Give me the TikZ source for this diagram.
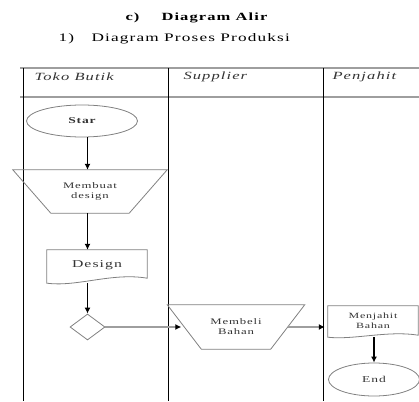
\documentclass[tikz,border=0pt]{standalone}
\usepackage{fontspec}
\setmainfont{Liberation Serif}[FakeStretch=1.5, LetterSpace=10]
\usepackage{tikz}
\usetikzlibrary{shapes.geometric, arrows.meta}

\definecolor{shapegray}{gray}{0.5}
\definecolor{rulegray}{gray}{0.62}
\definecolor{textgray}{gray}{0.2}

\tikzset{
  flow/.style={-{Latex[length=6pt,width=6pt]}, line width=1.2pt},
  outline/.style={shapegray, line width=0.8pt},
  terminal/.style={ellipse, draw=shapegray, line width=0.8pt, inner sep=0pt, text=textgray},
  manualbox/.style={inner sep=0pt, align=center, text=textgray, font=\fontsize{8.5}{10}\selectfont},
  docbox/.style={inner sep=0pt, align=center, text=textgray},
  decision/.style={diamond, draw=shapegray, line width=0.8pt, inner sep=0pt,
    minimum width=35pt, minimum height=26pt},
  lanehead/.style={anchor=west, text=textgray, font=\fontsize{11}{12}\selectfont\itshape},
}

\begin{document}
\begin{tikzpicture}[x=1pt, y=-1pt]
    \useasboundingbox (0,0) rectangle (419,401);

    % Headings
    \node[anchor=west, font=\fontsize{11}{13}\selectfont\bfseries] (hurufc) at (122,18) {c)};
    \node[anchor=west, font=\fontsize{11}{13}\selectfont\bfseries] (judul) at (158,18) {Diagram Alir};
    \node[anchor=west, font=\fontsize{11.5}{13}\selectfont] (nomor) at (55,39) {1)};
    \node[anchor=west, font=\fontsize{11.5}{13}\selectfont] (subjudul) at (88,39) {Diagram Proses Produksi};

    % Swimlanes
    \draw[rulegray, line width=1.3pt] (20,68) -- (419,68);
    \draw[rulegray, line width=1.3pt] (20,97) -- (419,97);
    \draw[line width=0.9pt] (23,68) -- (23,401);
    \draw[line width=0.9pt] (168,68) -- (168,401);
    \draw[line width=0.9pt] (323,68) -- (323,401);
    \node[lanehead] (tokohead) at (31,77) {Toko Butik};
    \node[lanehead] (supphead) at (180,77) {Supplier};
    \node[lanehead] (penjhead) at (329,77) {Penjahit};

    % Toko Butik
    \node[terminal, minimum width=111pt, minimum height=32pt,
      font=\fontsize{9}{10}\selectfont\bfseries] (star) at (82,121) {Star};
    \node[manualbox, minimum width=116pt, minimum height=43pt] (membuat) at (90,191.5) {Membuat\\design};
    \draw[outline] ([xshift=-19pt]membuat.north west) -- ([xshift=19pt]membuat.north east)
      -- ([xshift=-19pt]membuat.south east) -- ([xshift=19pt]membuat.south west) -- cycle;
    \node[docbox, minimum width=100pt, minimum height=30pt,
      font=\fontsize{10.5}{12}\selectfont] (design) at (97,265) {Design};
    \draw[outline] (design.north west) -- (design.north east)
      -- ([yshift=2pt]design.south east) .. controls +(-35,-6) and +(30,4) .. ([yshift=-3pt]design.south west) -- cycle;
    \node[decision] (cek) at (87.5,327) {};

    % Supplier
    \node[manualbox, minimum width=103pt, minimum height=44pt] (membeli) at (236,327) {Membeli\\Bahan};
    \draw[outline] ([xshift=-17pt]membeli.north west) -- ([xshift=17pt]membeli.north east)
      -- ([xshift=-17pt]membeli.south east) -- ([xshift=17pt]membeli.south west) -- cycle;

    % Penjahit
    \node[docbox, minimum width=90pt, minimum height=30pt,
      font=\fontsize{8}{10}\selectfont] (menjahit) at (373,321) {Menjahit\\Bahan};
    \draw[outline] (menjahit.north west) -- (menjahit.north east)
      -- ([yshift=1pt]menjahit.south east) .. controls +(-30,-5) and +(25,3) .. ([yshift=-1pt]menjahit.south west) -- cycle;
    \node[terminal, minimum width=91pt, minimum height=33pt,
      font=\fontsize{9}{10}\selectfont] (end) at (374,379.5) {End};

    % Arrows
    \coordinate (designfoot) at ([yshift=-3pt]design.south);
    \coordinate (menjahitfoot) at ([yshift=-1pt]menjahit.south);
    \draw[flow] (star.south -| cek) -- (membuat.north -| cek);
    \draw[flow] (membuat.south -| cek) -- (design.north -| cek);
    \draw[flow] (designfoot -| cek) -- (cek);
    \draw[rulegray, line width=1.5pt, -{Latex[length=6pt,width=6pt,black]}, shorten >=3pt] (cek) -- (membeli);
    \draw[rulegray, line width=1.5pt, -{Latex[length=6pt,width=6pt,black]}, shorten >=3pt] (membeli) -- (membeli -| menjahit.west);
    \draw[flow] (menjahitfoot -| end) -- (end);
\end{tikzpicture}
\end{document}
